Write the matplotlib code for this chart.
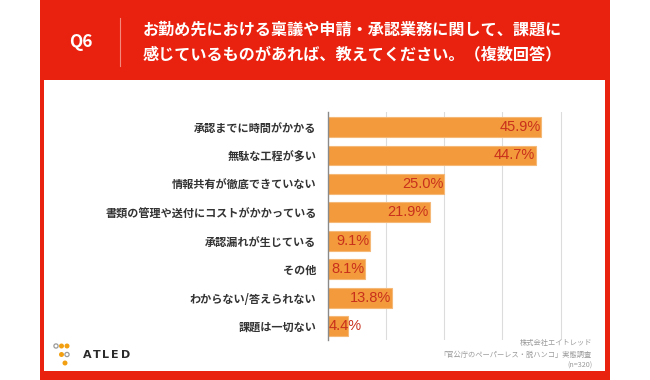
import matplotlib
matplotlib.use('Agg')
import matplotlib.pyplot as plt
from matplotlib.patches import Rectangle, Circle

plt.rcParams['font.family'] = ['Noto Sans CJK JP', 'DejaVu Sans']

# data
labels = ['承認までに時間がかかる', '無駄な工程が多い', '情報共有が徹底できていない',
          '書類の管理や送付にコストがかかっている', '承認漏れが生じている', 'その他',
          'わからない/答えられない', '課題は一切ない']
values = [45.9, 44.7, 25.0, 21.9, 9.1, 8.1, 13.8, 4.4]
grid_ticks = [12.5, 25, 37.5, 50]

title_q = 'Q6'
title_lines = ['お勤め先における稟議や申請・承認業務に関して、課題に',
               '感じているものがあれば、教えてください。（複数回答）']
notes = ['株式会社エイトレッド', '「官公庁のペーパーレス・脱ハンコ」実態調査', '(n=320)']

W, H = 650, 380
RED = '#E9220F'
ORANGE = '#F29A3C'
LABEL_RED = '#C9301C'

fig = plt.figure(figsize=(W / 100, H / 100), dpi=100)
fig.patch.set_facecolor('white')


def px(x, y):
    # pixel coords (from top-left) -> figure fraction
    return x / W, 1 - y / H


# red frame and white panel
fig.patches.append(Rectangle(px(40, 380), 570 / W, 380 / H, transform=fig.transFigure,
                             facecolor=RED, edgecolor='none', zorder=-2))
fig.patches.append(Rectangle(px(44, 371), 561 / W, 291 / H, transform=fig.transFigure,
                             facecolor='white', edgecolor='none', zorder=-1))

# header
fig.text(*px(81, 42), title_q, color='white', fontsize=12.5, fontweight='bold',
         ha='center', va='center')
fig.add_artist(plt.Line2D([120 / W, 120 / W], [1 - 18 / H, 1 - 66 / H], color='#F58A7C', lw=0.8))
fig.text(*px(143, 30), title_lines[0], color='white', fontsize=11.6, fontweight='bold',
         ha='left', va='center')
fig.text(*px(143, 54), title_lines[1], color='white', fontsize=11.6, fontweight='bold',
         ha='left', va='center')

# main chart
l, b = px(327.7, 340)
r, t = px(595, 112)
ax = fig.add_axes([l, b, r - l, t - b])
ax.set_facecolor('none')
pos = list(range(len(values)))
ax.barh(pos, values, height=0.7, color=ORANGE, edgecolor='#F6B877', linewidth=0.8, zorder=3)
ax.set_xlim(0, 57.4)
ax.set_ylim(7.49, -0.53)
for g in grid_ticks:
    ax.axvline(g, color='#DCDCDC', lw=0.8, zorder=1)
ax.set_yticks(pos)
ax.set_yticklabels(labels, fontsize=8, color='#333333', fontweight='bold')
ax.tick_params(axis='y', length=0, pad=8)
ax.set_xticks([])
for s in ['top', 'right', 'bottom']:
    ax.spines[s].set_visible(False)
ax.spines['left'].set_color('#8A8A8A')
ax.spines['left'].set_linewidth(1)
ax.spines['left'].set_zorder(4)

for p, v in zip(pos, values):
    if v < 6:
        ax.text(0.1, p, f'{v:.1f}%', color=LABEL_RED, fontsize=10.5, ha='left', va='center',
                zorder=5, family='Liberation Sans')
    else:
        ax.text(v - 0.15, p, f'{v:.1f}%', color=LABEL_RED, fontsize=10.5, ha='right', va='center',
                zorder=5, family='Liberation Sans')

# footer notes
for y, s in zip([343, 355, 366], notes):
    fig.text(*px(592, y), s, color='#9A9A9A', fontsize=5.2, ha='right', va='center')

# ATLED logo
logo = fig.add_axes([0, 0, 1, 1], facecolor='none')
logo.set_xlim(0, W)
logo.set_ylim(H, 0)
logo.axis('off')
dots = [(56, 346, 'g'), (61.5, 346, 'o'), (67, 346, 'o'),
        (61.5, 354.5, 'o'), (67, 354.5, 'g'), (65, 363, 'o')]
for x, y, c in dots:
    if c == 'o':
        logo.add_patch(Circle((x, y), 2.5, facecolor='#F2A012', edgecolor='none'))
    else:
        logo.add_patch(Circle((x, y), 2.1, facecolor='white', edgecolor='#9A9A9A', lw=0.9))
for i, ch in enumerate('ATLED'):
    logo.text(83 + i * 9.5, 355.5, ch, color='#2A2A2A', fontsize=8, fontweight='bold',
              ha='left', va='center', family='DejaVu Sans')

fig.savefig('out.png', dpi=100)
